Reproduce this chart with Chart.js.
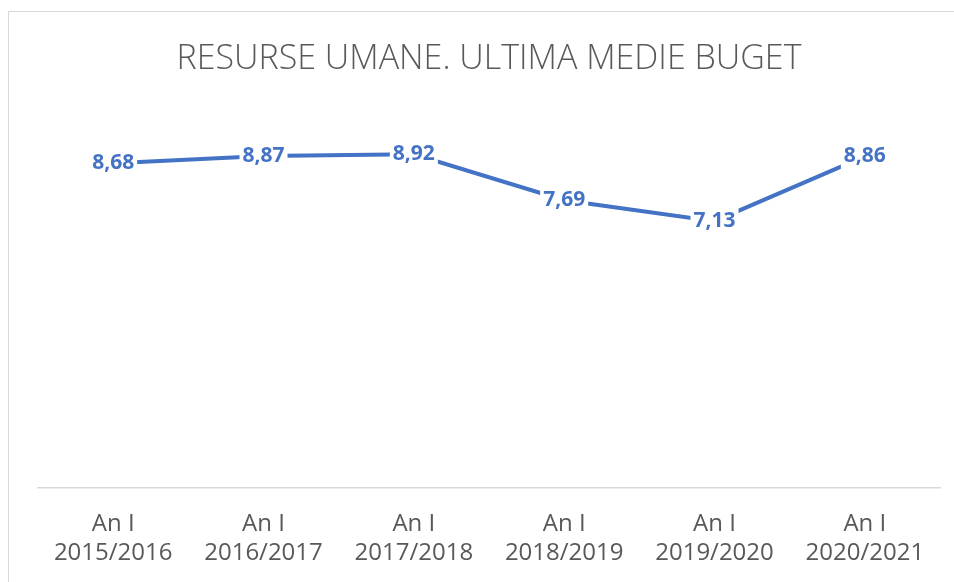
<!DOCTYPE html>
<html>
<head>
<meta charset="utf-8">
<script src="https://cdn.jsdelivr.net/npm/chart.js@4"></script>
<style>
  html, body { margin: 0; padding: 0; background: #fff; }
  .wrap { position: relative; width: 954px; height: 582px; overflow: hidden; }
  .frame { position: absolute; left: 8px; top: 11px; width: 960px; height: 600px;
           border-top: 1.5px solid #d9d9d9; border-left: 1.5px solid #d9d9d9; }
  canvas { position: absolute; left: 0; top: 0; }
</style>
</head>
<body>
<div class="wrap">
  <div class="frame"></div>
  <canvas id="avgChart" width="954" height="582"></canvas>
</div>
<script>
const categories = [
  ["An I", "2015/2016"],
  ["An I", "2016/2017"],
  ["An I", "2017/2018"],
  ["An I", "2018/2019"],
  ["An I", "2019/2020"],
  ["An I", "2020/2021"]
];
const averages = [8.68, 8.87, 8.92, 7.69, 7.13, 8.86];

const blue = "#4472C4";
const grey = "#595959";

// value labels centred on the points, with a white box that cuts the line
const pointLabels = {
  id: "pointLabels",
  afterDatasetsDraw(chart) {
    const ctx = chart.ctx;
    const meta = chart.getDatasetMeta(0);
    ctx.save();
    ctx.font = "bold 21px 'Open Sans'";
    ctx.textAlign = "center";
    ctx.textBaseline = "middle";
    meta.data.forEach((pt, i) => {
      const txt = averages[i].toFixed(2).replace(".", ",");
      const w = ctx.measureText(txt).width + 6;
      ctx.fillStyle = "#fff";
      ctx.fillRect(pt.x - w / 2, pt.y - 13, w, 26);
      ctx.fillStyle = blue;
      ctx.fillText(txt, pt.x, pt.y);
    });
    ctx.restore();
  }
};

new Chart(document.getElementById("avgChart").getContext("2d"), {
  type: "line",
  data: {
    labels: categories,
    datasets: [{
      data: averages,
      borderColor: blue,
      borderWidth: 4,
      pointRadius: 0,
      tension: 0,
      fill: false
    }]
  },
  options: {
    responsive: false,
    animation: false,
    layout: { padding: { left: 38, right: 14, top: 0, bottom: 0 } },
    plugins: {
      legend: { display: false },
      tooltip: { enabled: false },
      title: {
        display: true,
        text: "RESURSE UMANE. ULTIMA MEDIE BUGET",
        color: grey,
        font: { family: "'Open Sans'", size: 34, weight: 300, lineHeight: 1.2 },
        padding: { top: 39, bottom: 34 }
      }
    },
    scales: {
      x: {
        offset: true,
        grid: { display: false },
        border: { display: true, color: "#d9d9d9", width: 1.5 },
        ticks: {
          color: grey,
          padding: 14,
          maxRotation: 0,
          font: { family: "'Open Sans'", size: 24, lineHeight: 1.21 }
        },
        afterFit(scale) { scale.height = 94; }
      },
      y: {
        display: false,
        min: 0,
        max: 10
      }
    }
  },
  plugins: [pointLabels]
});
</script>
</body>
</html>
